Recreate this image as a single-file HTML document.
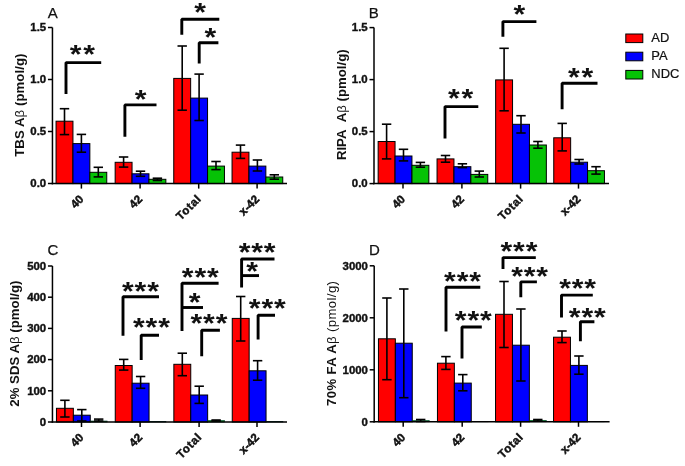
<!DOCTYPE html>
<html><head><meta charset="utf-8"><style>
html,body{margin:0;padding:0;background:#fff;width:685px;height:466px;overflow:hidden}
svg{display:block;will-change:transform}
text{font-family:"Liberation Sans", sans-serif;fill:#111}
</style></head><body>
<svg width="685" height="466" viewBox="0 0 685 466">
<rect x="56.05" y="121.20" width="16.90" height="62.40" fill="#ff0000" stroke="#000" stroke-width="1"/>
<line x1="64.50" y1="108.70" x2="64.50" y2="134.60" stroke="#000" stroke-width="1.6"/>
<line x1="59.80" y1="108.70" x2="69.20" y2="108.70" stroke="#000" stroke-width="1.6"/>
<line x1="59.80" y1="134.60" x2="69.20" y2="134.60" stroke="#000" stroke-width="1.6"/>
<rect x="72.95" y="143.60" width="16.90" height="40.00" fill="#0000ff" stroke="#000" stroke-width="1"/>
<line x1="81.40" y1="134.40" x2="81.40" y2="152.20" stroke="#000" stroke-width="1.6"/>
<line x1="76.70" y1="134.40" x2="86.10" y2="134.40" stroke="#000" stroke-width="1.6"/>
<line x1="76.70" y1="152.20" x2="86.10" y2="152.20" stroke="#000" stroke-width="1.6"/>
<rect x="89.85" y="172.30" width="16.90" height="11.30" fill="#06c206" stroke="#000" stroke-width="1"/>
<line x1="98.30" y1="167.30" x2="98.30" y2="176.90" stroke="#000" stroke-width="1.6"/>
<line x1="93.60" y1="167.30" x2="103.00" y2="167.30" stroke="#000" stroke-width="1.6"/>
<line x1="93.60" y1="176.90" x2="103.00" y2="176.90" stroke="#000" stroke-width="1.6"/>
<rect x="115.15" y="162.30" width="16.90" height="21.30" fill="#ff0000" stroke="#000" stroke-width="1"/>
<line x1="123.60" y1="157.00" x2="123.60" y2="167.10" stroke="#000" stroke-width="1.6"/>
<line x1="118.90" y1="157.00" x2="128.30" y2="157.00" stroke="#000" stroke-width="1.6"/>
<line x1="118.90" y1="167.10" x2="128.30" y2="167.10" stroke="#000" stroke-width="1.6"/>
<rect x="132.05" y="173.80" width="16.90" height="9.80" fill="#0000ff" stroke="#000" stroke-width="1"/>
<line x1="140.50" y1="171.20" x2="140.50" y2="176.30" stroke="#000" stroke-width="1.6"/>
<line x1="135.80" y1="171.20" x2="145.20" y2="171.20" stroke="#000" stroke-width="1.6"/>
<line x1="135.80" y1="176.30" x2="145.20" y2="176.30" stroke="#000" stroke-width="1.6"/>
<rect x="148.95" y="179.30" width="16.90" height="4.30" fill="#06c206" stroke="#000" stroke-width="1"/>
<line x1="157.40" y1="178.20" x2="157.40" y2="180.50" stroke="#000" stroke-width="1.6"/>
<line x1="152.70" y1="178.20" x2="162.10" y2="178.20" stroke="#000" stroke-width="1.6"/>
<line x1="152.70" y1="180.50" x2="162.10" y2="180.50" stroke="#000" stroke-width="1.6"/>
<rect x="173.75" y="78.40" width="16.90" height="105.20" fill="#ff0000" stroke="#000" stroke-width="1"/>
<line x1="182.20" y1="46.00" x2="182.20" y2="110.20" stroke="#000" stroke-width="1.6"/>
<line x1="177.50" y1="46.00" x2="186.90" y2="46.00" stroke="#000" stroke-width="1.6"/>
<line x1="177.50" y1="110.20" x2="186.90" y2="110.20" stroke="#000" stroke-width="1.6"/>
<rect x="190.65" y="98.10" width="16.90" height="85.50" fill="#0000ff" stroke="#000" stroke-width="1"/>
<line x1="199.10" y1="74.10" x2="199.10" y2="120.50" stroke="#000" stroke-width="1.6"/>
<line x1="194.40" y1="74.10" x2="203.80" y2="74.10" stroke="#000" stroke-width="1.6"/>
<line x1="194.40" y1="120.50" x2="203.80" y2="120.50" stroke="#000" stroke-width="1.6"/>
<rect x="207.55" y="166.10" width="16.90" height="17.50" fill="#06c206" stroke="#000" stroke-width="1"/>
<line x1="216.00" y1="161.50" x2="216.00" y2="169.60" stroke="#000" stroke-width="1.6"/>
<line x1="211.30" y1="161.50" x2="220.70" y2="161.50" stroke="#000" stroke-width="1.6"/>
<line x1="211.30" y1="169.60" x2="220.70" y2="169.60" stroke="#000" stroke-width="1.6"/>
<rect x="232.05" y="152.20" width="16.90" height="31.40" fill="#ff0000" stroke="#000" stroke-width="1"/>
<line x1="240.50" y1="145.10" x2="240.50" y2="158.40" stroke="#000" stroke-width="1.6"/>
<line x1="235.80" y1="145.10" x2="245.20" y2="145.10" stroke="#000" stroke-width="1.6"/>
<line x1="235.80" y1="158.40" x2="245.20" y2="158.40" stroke="#000" stroke-width="1.6"/>
<rect x="248.95" y="166.10" width="16.90" height="17.50" fill="#0000ff" stroke="#000" stroke-width="1"/>
<line x1="257.40" y1="160.00" x2="257.40" y2="171.00" stroke="#000" stroke-width="1.6"/>
<line x1="252.70" y1="160.00" x2="262.10" y2="160.00" stroke="#000" stroke-width="1.6"/>
<line x1="252.70" y1="171.00" x2="262.10" y2="171.00" stroke="#000" stroke-width="1.6"/>
<rect x="265.85" y="177.00" width="16.90" height="6.60" fill="#06c206" stroke="#000" stroke-width="1"/>
<line x1="274.30" y1="174.80" x2="274.30" y2="179.20" stroke="#000" stroke-width="1.6"/>
<line x1="269.60" y1="174.80" x2="279.00" y2="174.80" stroke="#000" stroke-width="1.6"/>
<line x1="269.60" y1="179.20" x2="279.00" y2="179.20" stroke="#000" stroke-width="1.6"/>
<line x1="52.45" y1="27.50" x2="52.45" y2="184.35" stroke="#000" stroke-width="1.5"/>
<line x1="51.70" y1="183.60" x2="287.00" y2="183.60" stroke="#000" stroke-width="1.5"/>
<line x1="47.95" y1="183.50" x2="52.45" y2="183.50" stroke="#000" stroke-width="1.5"/>
<text x="46.15" y="187.20" font-size="11.4" font-weight="bold" text-anchor="end" stroke="#111" stroke-width="0.4">0.0</text>
<line x1="47.95" y1="131.50" x2="52.45" y2="131.50" stroke="#000" stroke-width="1.5"/>
<text x="46.15" y="135.20" font-size="11.4" font-weight="bold" text-anchor="end" stroke="#111" stroke-width="0.4">0.5</text>
<line x1="47.95" y1="79.50" x2="52.45" y2="79.50" stroke="#000" stroke-width="1.5"/>
<text x="46.15" y="83.20" font-size="11.4" font-weight="bold" text-anchor="end" stroke="#111" stroke-width="0.4">1.0</text>
<line x1="47.95" y1="27.50" x2="52.45" y2="27.50" stroke="#000" stroke-width="1.5"/>
<text x="46.15" y="31.20" font-size="11.4" font-weight="bold" text-anchor="end" stroke="#111" stroke-width="0.4">1.5</text>
<line x1="81.40" y1="183.60" x2="81.40" y2="188.60" stroke="#000" stroke-width="1.5"/>
<line x1="140.10" y1="183.60" x2="140.10" y2="188.60" stroke="#000" stroke-width="1.5"/>
<line x1="198.70" y1="183.60" x2="198.70" y2="188.60" stroke="#000" stroke-width="1.5"/>
<line x1="257.10" y1="183.60" x2="257.10" y2="188.60" stroke="#000" stroke-width="1.5"/>
<text x="84.30" y="199.90" font-size="11.6" font-weight="bold" text-anchor="end" stroke="#111" stroke-width="0.45" transform="rotate(-45 84.30 199.90)">40</text>
<text x="143.00" y="199.90" font-size="11.6" font-weight="bold" text-anchor="end" stroke="#111" stroke-width="0.45" transform="rotate(-45 143.00 199.90)">42</text>
<text x="201.60" y="199.90" font-size="11.6" font-weight="bold" text-anchor="end" textLength="29.5" lengthAdjust="spacing" stroke="#111" stroke-width="0.45" transform="rotate(-45 201.60 199.90)">Total</text>
<text x="260.00" y="199.90" font-size="11.6" font-weight="bold" text-anchor="end" stroke="#111" stroke-width="0.45" transform="rotate(-45 260.00 199.90)">x-42</text>
<text x="47.80" y="17.80" font-size="15" font-weight="normal" text-anchor="start" stroke="#111" stroke-width="0.25">A</text>
<text x="23.60" y="105.15" font-size="13.2" font-weight="bold" text-anchor="middle" textLength="103.3" lengthAdjust="spacing" transform="rotate(-90 23.60 105.15)">TBS A<tspan font-weight="normal">β</tspan> (pmol/g)</text>
<path d="M66.00 94.00 V62.60 H101.20" fill="none" stroke="#000" stroke-width="2.9" stroke-linejoin="bevel"/>
<text x="0" y="9.43" font-size="29" font-weight="bold" text-anchor="middle" transform="translate(75.65 54.90) scale(1.04 0.9)">*</text>
<text x="0" y="9.43" font-size="29" font-weight="bold" text-anchor="middle" transform="translate(89.15 54.90) scale(1.04 0.9)">*</text>
<path d="M124.90 136.70 V104.90 H156.50" fill="none" stroke="#000" stroke-width="2.9" stroke-linejoin="bevel"/>
<text x="0" y="9.43" font-size="29" font-weight="bold" text-anchor="middle" transform="translate(140.60 99.50) scale(1.04 0.9)">*</text>
<path d="M181.80 34.80 V19.20 H219.30" fill="none" stroke="#000" stroke-width="2.9" stroke-linejoin="bevel"/>
<text x="0" y="9.43" font-size="29" font-weight="bold" text-anchor="middle" transform="translate(200.00 12.90) scale(1.04 0.9)">*</text>
<path d="M199.20 63.40 V42.70 H218.40" fill="none" stroke="#000" stroke-width="2.9" stroke-linejoin="bevel"/>
<text x="0" y="9.43" font-size="29" font-weight="bold" text-anchor="middle" transform="translate(210.40 37.80) scale(1.04 0.9)">*</text>
<rect x="378.15" y="141.50" width="16.90" height="42.10" fill="#ff0000" stroke="#000" stroke-width="1"/>
<line x1="386.60" y1="124.20" x2="386.60" y2="158.90" stroke="#000" stroke-width="1.6"/>
<line x1="381.90" y1="124.20" x2="391.30" y2="124.20" stroke="#000" stroke-width="1.6"/>
<line x1="381.90" y1="158.90" x2="391.30" y2="158.90" stroke="#000" stroke-width="1.6"/>
<rect x="395.05" y="156.00" width="16.90" height="27.60" fill="#0000ff" stroke="#000" stroke-width="1"/>
<line x1="403.50" y1="149.30" x2="403.50" y2="160.90" stroke="#000" stroke-width="1.6"/>
<line x1="398.80" y1="149.30" x2="408.20" y2="149.30" stroke="#000" stroke-width="1.6"/>
<line x1="398.80" y1="160.90" x2="408.20" y2="160.90" stroke="#000" stroke-width="1.6"/>
<rect x="411.95" y="165.30" width="16.90" height="18.30" fill="#06c206" stroke="#000" stroke-width="1"/>
<line x1="420.40" y1="162.40" x2="420.40" y2="167.20" stroke="#000" stroke-width="1.6"/>
<line x1="415.70" y1="162.40" x2="425.10" y2="162.40" stroke="#000" stroke-width="1.6"/>
<line x1="415.70" y1="167.20" x2="425.10" y2="167.20" stroke="#000" stroke-width="1.6"/>
<rect x="437.05" y="158.90" width="16.90" height="24.70" fill="#ff0000" stroke="#000" stroke-width="1"/>
<line x1="445.50" y1="155.50" x2="445.50" y2="162.20" stroke="#000" stroke-width="1.6"/>
<line x1="440.80" y1="155.50" x2="450.20" y2="155.50" stroke="#000" stroke-width="1.6"/>
<line x1="440.80" y1="162.20" x2="450.20" y2="162.20" stroke="#000" stroke-width="1.6"/>
<rect x="453.95" y="166.70" width="16.90" height="16.90" fill="#0000ff" stroke="#000" stroke-width="1"/>
<line x1="462.40" y1="163.80" x2="462.40" y2="167.60" stroke="#000" stroke-width="1.6"/>
<line x1="457.70" y1="163.80" x2="467.10" y2="163.80" stroke="#000" stroke-width="1.6"/>
<line x1="457.70" y1="167.60" x2="467.10" y2="167.60" stroke="#000" stroke-width="1.6"/>
<rect x="470.85" y="174.40" width="16.90" height="9.20" fill="#06c206" stroke="#000" stroke-width="1"/>
<line x1="479.30" y1="171.10" x2="479.30" y2="177.00" stroke="#000" stroke-width="1.6"/>
<line x1="474.60" y1="171.10" x2="484.00" y2="171.10" stroke="#000" stroke-width="1.6"/>
<line x1="474.60" y1="177.00" x2="484.00" y2="177.00" stroke="#000" stroke-width="1.6"/>
<rect x="495.65" y="79.90" width="16.90" height="103.70" fill="#ff0000" stroke="#000" stroke-width="1"/>
<line x1="504.10" y1="48.30" x2="504.10" y2="110.80" stroke="#000" stroke-width="1.6"/>
<line x1="499.40" y1="48.30" x2="508.80" y2="48.30" stroke="#000" stroke-width="1.6"/>
<line x1="499.40" y1="110.80" x2="508.80" y2="110.80" stroke="#000" stroke-width="1.6"/>
<rect x="512.55" y="124.30" width="16.90" height="59.30" fill="#0000ff" stroke="#000" stroke-width="1"/>
<line x1="521.00" y1="115.70" x2="521.00" y2="133.00" stroke="#000" stroke-width="1.6"/>
<line x1="516.30" y1="115.70" x2="525.70" y2="115.70" stroke="#000" stroke-width="1.6"/>
<line x1="516.30" y1="133.00" x2="525.70" y2="133.00" stroke="#000" stroke-width="1.6"/>
<rect x="529.45" y="145.00" width="16.90" height="38.60" fill="#06c206" stroke="#000" stroke-width="1"/>
<line x1="537.90" y1="141.50" x2="537.90" y2="148.20" stroke="#000" stroke-width="1.6"/>
<line x1="533.20" y1="141.50" x2="542.60" y2="141.50" stroke="#000" stroke-width="1.6"/>
<line x1="533.20" y1="148.20" x2="542.60" y2="148.20" stroke="#000" stroke-width="1.6"/>
<rect x="553.75" y="137.80" width="16.90" height="45.80" fill="#ff0000" stroke="#000" stroke-width="1"/>
<line x1="562.20" y1="123.40" x2="562.20" y2="150.90" stroke="#000" stroke-width="1.6"/>
<line x1="557.50" y1="123.40" x2="566.90" y2="123.40" stroke="#000" stroke-width="1.6"/>
<line x1="557.50" y1="150.90" x2="566.90" y2="150.90" stroke="#000" stroke-width="1.6"/>
<rect x="570.65" y="162.20" width="16.90" height="21.40" fill="#0000ff" stroke="#000" stroke-width="1"/>
<line x1="579.10" y1="159.50" x2="579.10" y2="164.00" stroke="#000" stroke-width="1.6"/>
<line x1="574.40" y1="159.50" x2="583.80" y2="159.50" stroke="#000" stroke-width="1.6"/>
<line x1="574.40" y1="164.00" x2="583.80" y2="164.00" stroke="#000" stroke-width="1.6"/>
<rect x="587.55" y="170.70" width="16.90" height="12.90" fill="#06c206" stroke="#000" stroke-width="1"/>
<line x1="596.00" y1="166.70" x2="596.00" y2="174.10" stroke="#000" stroke-width="1.6"/>
<line x1="591.30" y1="166.70" x2="600.70" y2="166.70" stroke="#000" stroke-width="1.6"/>
<line x1="591.30" y1="174.10" x2="600.70" y2="174.10" stroke="#000" stroke-width="1.6"/>
<line x1="374.00" y1="27.60" x2="374.00" y2="184.35" stroke="#000" stroke-width="1.5"/>
<line x1="373.25" y1="183.60" x2="609.00" y2="183.60" stroke="#000" stroke-width="1.5"/>
<line x1="369.50" y1="183.60" x2="374.00" y2="183.60" stroke="#000" stroke-width="1.5"/>
<text x="367.70" y="187.30" font-size="11.4" font-weight="bold" text-anchor="end" stroke="#111" stroke-width="0.4">0.0</text>
<line x1="369.50" y1="131.60" x2="374.00" y2="131.60" stroke="#000" stroke-width="1.5"/>
<text x="367.70" y="135.30" font-size="11.4" font-weight="bold" text-anchor="end" stroke="#111" stroke-width="0.4">0.5</text>
<line x1="369.50" y1="79.60" x2="374.00" y2="79.60" stroke="#000" stroke-width="1.5"/>
<text x="367.70" y="83.30" font-size="11.4" font-weight="bold" text-anchor="end" stroke="#111" stroke-width="0.4">1.0</text>
<line x1="369.50" y1="27.60" x2="374.00" y2="27.60" stroke="#000" stroke-width="1.5"/>
<text x="367.70" y="31.30" font-size="11.4" font-weight="bold" text-anchor="end" stroke="#111" stroke-width="0.4">1.5</text>
<line x1="403.00" y1="183.60" x2="403.00" y2="188.60" stroke="#000" stroke-width="1.5"/>
<line x1="461.90" y1="183.60" x2="461.90" y2="188.60" stroke="#000" stroke-width="1.5"/>
<line x1="520.60" y1="183.60" x2="520.60" y2="188.60" stroke="#000" stroke-width="1.5"/>
<line x1="578.50" y1="183.60" x2="578.50" y2="188.60" stroke="#000" stroke-width="1.5"/>
<text x="405.90" y="199.90" font-size="11.6" font-weight="bold" text-anchor="end" stroke="#111" stroke-width="0.45" transform="rotate(-45 405.90 199.90)">40</text>
<text x="464.80" y="199.90" font-size="11.6" font-weight="bold" text-anchor="end" stroke="#111" stroke-width="0.45" transform="rotate(-45 464.80 199.90)">42</text>
<text x="523.50" y="199.90" font-size="11.6" font-weight="bold" text-anchor="end" textLength="29.5" lengthAdjust="spacing" stroke="#111" stroke-width="0.45" transform="rotate(-45 523.50 199.90)">Total</text>
<text x="581.40" y="199.90" font-size="11.6" font-weight="bold" text-anchor="end" stroke="#111" stroke-width="0.45" transform="rotate(-45 581.40 199.90)">x-42</text>
<text x="368.70" y="17.80" font-size="15" font-weight="normal" text-anchor="start" stroke="#111" stroke-width="0.25">B</text>
<text x="345.70" y="104.75" font-size="13.2" font-weight="bold" text-anchor="middle" textLength="110.7" lengthAdjust="spacing" transform="rotate(-90 345.70 104.75)">RIPA&#160;&#160;A<tspan font-weight="normal">β</tspan> (pmol/g)</text>
<path d="M445.00 138.60 V106.60 H478.30" fill="none" stroke="#000" stroke-width="2.9" stroke-linejoin="bevel"/>
<text x="0" y="9.43" font-size="29" font-weight="bold" text-anchor="middle" transform="translate(453.95 98.50) scale(1.04 0.9)">*</text>
<text x="0" y="9.43" font-size="29" font-weight="bold" text-anchor="middle" transform="translate(467.45 98.50) scale(1.04 0.9)">*</text>
<path d="M502.90 36.70 V21.60 H536.40" fill="none" stroke="#000" stroke-width="2.9" stroke-linejoin="bevel"/>
<text x="0" y="9.43" font-size="29" font-weight="bold" text-anchor="middle" transform="translate(519.40 14.10) scale(1.04 0.9)">*</text>
<path d="M562.10 109.30 V83.20 H597.50" fill="none" stroke="#000" stroke-width="2.9" stroke-linejoin="bevel"/>
<text x="0" y="9.43" font-size="29" font-weight="bold" text-anchor="middle" transform="translate(573.75 77.40) scale(1.04 0.9)">*</text>
<text x="0" y="9.43" font-size="29" font-weight="bold" text-anchor="middle" transform="translate(587.25 77.40) scale(1.04 0.9)">*</text>
<rect x="56.45" y="408.30" width="16.90" height="13.70" fill="#ff0000" stroke="#000" stroke-width="1"/>
<line x1="64.90" y1="400.30" x2="64.90" y2="417.00" stroke="#000" stroke-width="1.6"/>
<line x1="60.20" y1="400.30" x2="69.60" y2="400.30" stroke="#000" stroke-width="1.6"/>
<line x1="60.20" y1="417.00" x2="69.60" y2="417.00" stroke="#000" stroke-width="1.6"/>
<rect x="73.35" y="415.20" width="16.90" height="6.80" fill="#0000ff" stroke="#000" stroke-width="1"/>
<line x1="81.80" y1="409.60" x2="81.80" y2="421.00" stroke="#000" stroke-width="1.6"/>
<line x1="77.10" y1="409.60" x2="86.50" y2="409.60" stroke="#000" stroke-width="1.6"/>
<line x1="77.10" y1="421.00" x2="86.50" y2="421.00" stroke="#000" stroke-width="1.6"/>
<rect x="90.25" y="421.00" width="16.90" height="1.00" fill="#06c206" stroke="#033" stroke-width="0.6"/>
<line x1="98.70" y1="419.10" x2="98.70" y2="421.00" stroke="#000" stroke-width="1.6"/>
<line x1="94.00" y1="419.10" x2="103.40" y2="419.10" stroke="#000" stroke-width="1.6"/>
<line x1="94.00" y1="421.00" x2="103.40" y2="421.00" stroke="#000" stroke-width="1.6"/>
<rect x="115.25" y="365.50" width="16.90" height="56.50" fill="#ff0000" stroke="#000" stroke-width="1"/>
<line x1="123.70" y1="359.40" x2="123.70" y2="370.10" stroke="#000" stroke-width="1.6"/>
<line x1="119.00" y1="359.40" x2="128.40" y2="359.40" stroke="#000" stroke-width="1.6"/>
<line x1="119.00" y1="370.10" x2="128.40" y2="370.10" stroke="#000" stroke-width="1.6"/>
<rect x="132.15" y="383.20" width="16.90" height="38.80" fill="#0000ff" stroke="#000" stroke-width="1"/>
<line x1="140.60" y1="376.50" x2="140.60" y2="388.30" stroke="#000" stroke-width="1.6"/>
<line x1="135.90" y1="376.50" x2="145.30" y2="376.50" stroke="#000" stroke-width="1.6"/>
<line x1="135.90" y1="388.30" x2="145.30" y2="388.30" stroke="#000" stroke-width="1.6"/>
<rect x="149.05" y="421.50" width="16.90" height="0.50" fill="#06c206" stroke="#033" stroke-width="0.6"/>
<rect x="173.85" y="364.30" width="16.90" height="57.70" fill="#ff0000" stroke="#000" stroke-width="1"/>
<line x1="182.30" y1="353.20" x2="182.30" y2="375.70" stroke="#000" stroke-width="1.6"/>
<line x1="177.60" y1="353.20" x2="187.00" y2="353.20" stroke="#000" stroke-width="1.6"/>
<line x1="177.60" y1="375.70" x2="187.00" y2="375.70" stroke="#000" stroke-width="1.6"/>
<rect x="190.75" y="395.00" width="16.90" height="27.00" fill="#0000ff" stroke="#000" stroke-width="1"/>
<line x1="199.20" y1="386.20" x2="199.20" y2="403.40" stroke="#000" stroke-width="1.6"/>
<line x1="194.50" y1="386.20" x2="203.90" y2="386.20" stroke="#000" stroke-width="1.6"/>
<line x1="194.50" y1="403.40" x2="203.90" y2="403.40" stroke="#000" stroke-width="1.6"/>
<rect x="207.65" y="420.50" width="16.90" height="1.50" fill="#06c206" stroke="#033" stroke-width="0.6"/>
<line x1="216.10" y1="420.00" x2="216.10" y2="421.00" stroke="#000" stroke-width="1.6"/>
<line x1="211.40" y1="420.00" x2="220.80" y2="420.00" stroke="#000" stroke-width="1.6"/>
<line x1="211.40" y1="421.00" x2="220.80" y2="421.00" stroke="#000" stroke-width="1.6"/>
<rect x="232.25" y="318.40" width="16.90" height="103.60" fill="#ff0000" stroke="#000" stroke-width="1"/>
<line x1="240.70" y1="296.50" x2="240.70" y2="341.00" stroke="#000" stroke-width="1.6"/>
<line x1="236.00" y1="296.50" x2="245.40" y2="296.50" stroke="#000" stroke-width="1.6"/>
<line x1="236.00" y1="341.00" x2="245.40" y2="341.00" stroke="#000" stroke-width="1.6"/>
<rect x="249.15" y="370.80" width="16.90" height="51.20" fill="#0000ff" stroke="#000" stroke-width="1"/>
<line x1="257.60" y1="360.70" x2="257.60" y2="380.20" stroke="#000" stroke-width="1.6"/>
<line x1="252.90" y1="360.70" x2="262.30" y2="360.70" stroke="#000" stroke-width="1.6"/>
<line x1="252.90" y1="380.20" x2="262.30" y2="380.20" stroke="#000" stroke-width="1.6"/>
<rect x="266.05" y="421.50" width="16.90" height="0.50" fill="#06c206" stroke="#033" stroke-width="0.6"/>
<line x1="52.45" y1="266.00" x2="52.45" y2="422.75" stroke="#000" stroke-width="1.5"/>
<line x1="51.70" y1="422.00" x2="287.00" y2="422.00" stroke="#000" stroke-width="1.5"/>
<line x1="47.95" y1="422.00" x2="52.45" y2="422.00" stroke="#000" stroke-width="1.5"/>
<text x="46.15" y="425.70" font-size="11.4" font-weight="bold" text-anchor="end" stroke="#111" stroke-width="0.4">0</text>
<line x1="47.95" y1="390.80" x2="52.45" y2="390.80" stroke="#000" stroke-width="1.5"/>
<text x="46.15" y="394.50" font-size="11.4" font-weight="bold" text-anchor="end" stroke="#111" stroke-width="0.4">100</text>
<line x1="47.95" y1="359.60" x2="52.45" y2="359.60" stroke="#000" stroke-width="1.5"/>
<text x="46.15" y="363.30" font-size="11.4" font-weight="bold" text-anchor="end" stroke="#111" stroke-width="0.4">200</text>
<line x1="47.95" y1="328.40" x2="52.45" y2="328.40" stroke="#000" stroke-width="1.5"/>
<text x="46.15" y="332.10" font-size="11.4" font-weight="bold" text-anchor="end" stroke="#111" stroke-width="0.4">300</text>
<line x1="47.95" y1="297.20" x2="52.45" y2="297.20" stroke="#000" stroke-width="1.5"/>
<text x="46.15" y="300.90" font-size="11.4" font-weight="bold" text-anchor="end" stroke="#111" stroke-width="0.4">400</text>
<line x1="47.95" y1="266.00" x2="52.45" y2="266.00" stroke="#000" stroke-width="1.5"/>
<text x="46.15" y="269.70" font-size="11.4" font-weight="bold" text-anchor="end" stroke="#111" stroke-width="0.4">500</text>
<line x1="81.50" y1="422.00" x2="81.50" y2="427.00" stroke="#000" stroke-width="1.5"/>
<line x1="140.10" y1="422.00" x2="140.10" y2="427.00" stroke="#000" stroke-width="1.5"/>
<line x1="199.10" y1="422.00" x2="199.10" y2="427.00" stroke="#000" stroke-width="1.5"/>
<line x1="257.00" y1="422.00" x2="257.00" y2="427.00" stroke="#000" stroke-width="1.5"/>
<text x="84.40" y="438.30" font-size="11.6" font-weight="bold" text-anchor="end" stroke="#111" stroke-width="0.45" transform="rotate(-45 84.40 438.30)">40</text>
<text x="143.00" y="438.30" font-size="11.6" font-weight="bold" text-anchor="end" stroke="#111" stroke-width="0.45" transform="rotate(-45 143.00 438.30)">42</text>
<text x="202.00" y="438.30" font-size="11.6" font-weight="bold" text-anchor="end" textLength="29.5" lengthAdjust="spacing" stroke="#111" stroke-width="0.45" transform="rotate(-45 202.00 438.30)">Total</text>
<text x="259.90" y="438.30" font-size="11.6" font-weight="bold" text-anchor="end" stroke="#111" stroke-width="0.45" transform="rotate(-45 259.90 438.30)">x-42</text>
<text x="47.60" y="254.70" font-size="15" font-weight="normal" text-anchor="start" stroke="#111" stroke-width="0.25">C</text>
<text x="19.50" y="343.60" font-size="13.2" font-weight="bold" text-anchor="middle" textLength="126.2" lengthAdjust="spacing" transform="rotate(-90 19.50 343.60)">2% SDS A<tspan font-weight="normal">β</tspan> (pmol/g)</text>
<path d="M123.00 335.80 V296.80 H159.00" fill="none" stroke="#000" stroke-width="2.9" stroke-linejoin="bevel"/>
<text x="0" y="9.43" font-size="29" font-weight="bold" text-anchor="middle" transform="translate(127.80 292.00) scale(1.04 0.9)">*</text>
<text x="0" y="9.43" font-size="29" font-weight="bold" text-anchor="middle" transform="translate(140.40 292.00) scale(1.04 0.9)">*</text>
<text x="0" y="9.43" font-size="29" font-weight="bold" text-anchor="middle" transform="translate(153.00 292.00) scale(1.04 0.9)">*</text>
<path d="M141.20 360.00 V335.20 H159.00" fill="none" stroke="#000" stroke-width="2.9" stroke-linejoin="bevel"/>
<text x="0" y="9.43" font-size="29" font-weight="bold" text-anchor="middle" transform="translate(138.80 327.70) scale(1.04 0.9)">*</text>
<text x="0" y="9.43" font-size="29" font-weight="bold" text-anchor="middle" transform="translate(151.40 327.70) scale(1.04 0.9)">*</text>
<text x="0" y="9.43" font-size="29" font-weight="bold" text-anchor="middle" transform="translate(164.00 327.70) scale(1.04 0.9)">*</text>
<path d="M182.00 331.00 V283.20 H218.60" fill="none" stroke="#000" stroke-width="2.9" stroke-linejoin="bevel"/>
<text x="0" y="9.43" font-size="29" font-weight="bold" text-anchor="middle" transform="translate(187.70 278.00) scale(1.04 0.9)">*</text>
<text x="0" y="9.43" font-size="29" font-weight="bold" text-anchor="middle" transform="translate(200.30 278.00) scale(1.04 0.9)">*</text>
<text x="0" y="9.43" font-size="29" font-weight="bold" text-anchor="middle" transform="translate(212.90 278.00) scale(1.04 0.9)">*</text>
<line x1="182.00" y1="307.50" x2="203.00" y2="307.50" stroke="#000" stroke-width="2.9"/>
<text x="0" y="9.43" font-size="29" font-weight="bold" text-anchor="middle" transform="translate(194.70 302.80) scale(1.04 0.9)">*</text>
<path d="M201.70 356.20 V330.20 H219.90" fill="none" stroke="#000" stroke-width="2.9" stroke-linejoin="bevel"/>
<text x="0" y="9.43" font-size="29" font-weight="bold" text-anchor="middle" transform="translate(196.35 323.80) scale(1.04 0.9)">*</text>
<text x="0" y="9.43" font-size="29" font-weight="bold" text-anchor="middle" transform="translate(208.95 323.80) scale(1.04 0.9)">*</text>
<text x="0" y="9.43" font-size="29" font-weight="bold" text-anchor="middle" transform="translate(221.55 323.80) scale(1.04 0.9)">*</text>
<path d="M241.60 287.50 V259.00 H274.50" fill="none" stroke="#000" stroke-width="2.9" stroke-linejoin="bevel"/>
<text x="0" y="9.43" font-size="29" font-weight="bold" text-anchor="middle" transform="translate(244.50 252.90) scale(1.04 0.9)">*</text>
<text x="0" y="9.43" font-size="29" font-weight="bold" text-anchor="middle" transform="translate(257.10 252.90) scale(1.04 0.9)">*</text>
<text x="0" y="9.43" font-size="29" font-weight="bold" text-anchor="middle" transform="translate(269.70 252.90) scale(1.04 0.9)">*</text>
<line x1="241.60" y1="275.60" x2="259.00" y2="275.60" stroke="#000" stroke-width="2.9"/>
<text x="0" y="9.43" font-size="29" font-weight="bold" text-anchor="middle" transform="translate(252.20 271.80) scale(1.04 0.9)">*</text>
<path d="M258.10 339.40 V315.30 H275.00" fill="none" stroke="#000" stroke-width="2.9" stroke-linejoin="bevel"/>
<text x="0" y="9.43" font-size="29" font-weight="bold" text-anchor="middle" transform="translate(254.70 308.70) scale(1.04 0.9)">*</text>
<text x="0" y="9.43" font-size="29" font-weight="bold" text-anchor="middle" transform="translate(267.30 308.70) scale(1.04 0.9)">*</text>
<text x="0" y="9.43" font-size="29" font-weight="bold" text-anchor="middle" transform="translate(279.90 308.70) scale(1.04 0.9)">*</text>
<rect x="378.45" y="338.80" width="16.90" height="83.00" fill="#ff0000" stroke="#000" stroke-width="1"/>
<line x1="386.90" y1="298.00" x2="386.90" y2="379.70" stroke="#000" stroke-width="1.6"/>
<line x1="382.20" y1="298.00" x2="391.60" y2="298.00" stroke="#000" stroke-width="1.6"/>
<line x1="382.20" y1="379.70" x2="391.60" y2="379.70" stroke="#000" stroke-width="1.6"/>
<rect x="395.35" y="343.20" width="16.90" height="78.60" fill="#0000ff" stroke="#000" stroke-width="1"/>
<line x1="403.80" y1="289.00" x2="403.80" y2="397.70" stroke="#000" stroke-width="1.6"/>
<line x1="399.10" y1="289.00" x2="408.50" y2="289.00" stroke="#000" stroke-width="1.6"/>
<line x1="399.10" y1="397.70" x2="408.50" y2="397.70" stroke="#000" stroke-width="1.6"/>
<rect x="412.25" y="420.50" width="16.90" height="1.30" fill="#06c206" stroke="#033" stroke-width="0.6"/>
<line x1="420.70" y1="419.50" x2="420.70" y2="421.50" stroke="#000" stroke-width="1.6"/>
<line x1="416.00" y1="419.50" x2="425.40" y2="419.50" stroke="#000" stroke-width="1.6"/>
<line x1="416.00" y1="421.50" x2="425.40" y2="421.50" stroke="#000" stroke-width="1.6"/>
<rect x="437.45" y="363.20" width="16.90" height="58.60" fill="#ff0000" stroke="#000" stroke-width="1"/>
<line x1="445.90" y1="356.60" x2="445.90" y2="369.40" stroke="#000" stroke-width="1.6"/>
<line x1="441.20" y1="356.60" x2="450.60" y2="356.60" stroke="#000" stroke-width="1.6"/>
<line x1="441.20" y1="369.40" x2="450.60" y2="369.40" stroke="#000" stroke-width="1.6"/>
<rect x="454.35" y="383.10" width="16.90" height="38.70" fill="#0000ff" stroke="#000" stroke-width="1"/>
<line x1="462.80" y1="374.60" x2="462.80" y2="390.80" stroke="#000" stroke-width="1.6"/>
<line x1="458.10" y1="374.60" x2="467.50" y2="374.60" stroke="#000" stroke-width="1.6"/>
<line x1="458.10" y1="390.80" x2="467.50" y2="390.80" stroke="#000" stroke-width="1.6"/>
<rect x="471.25" y="421.30" width="16.90" height="0.50" fill="#06c206" stroke="#033" stroke-width="0.6"/>
<rect x="495.55" y="314.30" width="16.90" height="107.50" fill="#ff0000" stroke="#000" stroke-width="1"/>
<line x1="504.00" y1="281.50" x2="504.00" y2="347.50" stroke="#000" stroke-width="1.6"/>
<line x1="499.30" y1="281.50" x2="508.70" y2="281.50" stroke="#000" stroke-width="1.6"/>
<line x1="499.30" y1="347.50" x2="508.70" y2="347.50" stroke="#000" stroke-width="1.6"/>
<rect x="512.45" y="345.20" width="16.90" height="76.60" fill="#0000ff" stroke="#000" stroke-width="1"/>
<line x1="520.90" y1="309.00" x2="520.90" y2="381.00" stroke="#000" stroke-width="1.6"/>
<line x1="516.20" y1="309.00" x2="525.60" y2="309.00" stroke="#000" stroke-width="1.6"/>
<line x1="516.20" y1="381.00" x2="525.60" y2="381.00" stroke="#000" stroke-width="1.6"/>
<rect x="529.35" y="420.30" width="16.90" height="1.50" fill="#06c206" stroke="#033" stroke-width="0.6"/>
<line x1="537.80" y1="419.50" x2="537.80" y2="421.00" stroke="#000" stroke-width="1.6"/>
<line x1="533.10" y1="419.50" x2="542.50" y2="419.50" stroke="#000" stroke-width="1.6"/>
<line x1="533.10" y1="421.00" x2="542.50" y2="421.00" stroke="#000" stroke-width="1.6"/>
<rect x="553.55" y="337.20" width="16.90" height="84.60" fill="#ff0000" stroke="#000" stroke-width="1"/>
<line x1="562.00" y1="331.00" x2="562.00" y2="342.60" stroke="#000" stroke-width="1.6"/>
<line x1="557.30" y1="331.00" x2="566.70" y2="331.00" stroke="#000" stroke-width="1.6"/>
<line x1="557.30" y1="342.60" x2="566.70" y2="342.60" stroke="#000" stroke-width="1.6"/>
<rect x="570.45" y="365.40" width="16.90" height="56.40" fill="#0000ff" stroke="#000" stroke-width="1"/>
<line x1="578.90" y1="356.00" x2="578.90" y2="374.20" stroke="#000" stroke-width="1.6"/>
<line x1="574.20" y1="356.00" x2="583.60" y2="356.00" stroke="#000" stroke-width="1.6"/>
<line x1="574.20" y1="374.20" x2="583.60" y2="374.20" stroke="#000" stroke-width="1.6"/>
<rect x="587.35" y="421.30" width="16.90" height="0.50" fill="#06c206" stroke="#033" stroke-width="0.6"/>
<line x1="374.20" y1="265.80" x2="374.20" y2="422.55" stroke="#000" stroke-width="1.5"/>
<line x1="373.45" y1="421.80" x2="609.60" y2="421.80" stroke="#000" stroke-width="1.5"/>
<line x1="369.70" y1="421.80" x2="374.20" y2="421.80" stroke="#000" stroke-width="1.5"/>
<text x="367.90" y="425.50" font-size="11.4" font-weight="bold" text-anchor="end" stroke="#111" stroke-width="0.4">0</text>
<line x1="369.70" y1="369.80" x2="374.20" y2="369.80" stroke="#000" stroke-width="1.5"/>
<text x="367.90" y="373.50" font-size="11.4" font-weight="bold" text-anchor="end" stroke="#111" stroke-width="0.4">1000</text>
<line x1="369.70" y1="317.80" x2="374.20" y2="317.80" stroke="#000" stroke-width="1.5"/>
<text x="367.90" y="321.50" font-size="11.4" font-weight="bold" text-anchor="end" stroke="#111" stroke-width="0.4">2000</text>
<line x1="369.70" y1="265.80" x2="374.20" y2="265.80" stroke="#000" stroke-width="1.5"/>
<text x="367.90" y="269.50" font-size="11.4" font-weight="bold" text-anchor="end" stroke="#111" stroke-width="0.4">3000</text>
<line x1="403.20" y1="421.80" x2="403.20" y2="426.80" stroke="#000" stroke-width="1.5"/>
<line x1="462.20" y1="421.80" x2="462.20" y2="426.80" stroke="#000" stroke-width="1.5"/>
<line x1="520.60" y1="421.80" x2="520.60" y2="426.80" stroke="#000" stroke-width="1.5"/>
<line x1="578.50" y1="421.80" x2="578.50" y2="426.80" stroke="#000" stroke-width="1.5"/>
<text x="406.10" y="438.10" font-size="11.6" font-weight="bold" text-anchor="end" stroke="#111" stroke-width="0.45" transform="rotate(-45 406.10 438.10)">40</text>
<text x="465.10" y="438.10" font-size="11.6" font-weight="bold" text-anchor="end" stroke="#111" stroke-width="0.45" transform="rotate(-45 465.10 438.10)">42</text>
<text x="523.50" y="438.10" font-size="11.6" font-weight="bold" text-anchor="end" textLength="29.5" lengthAdjust="spacing" stroke="#111" stroke-width="0.45" transform="rotate(-45 523.50 438.10)">Total</text>
<text x="581.40" y="438.10" font-size="11.6" font-weight="bold" text-anchor="end" stroke="#111" stroke-width="0.45" transform="rotate(-45 581.40 438.10)">x-42</text>
<text x="368.90" y="254.70" font-size="15" font-weight="normal" text-anchor="start" stroke="#111" stroke-width="0.25">D</text>
<text x="336.00" y="343.50" font-size="13.2" font-weight="bold" text-anchor="middle" textLength="125" lengthAdjust="spacing" transform="rotate(-90 336.00 343.50)">70% FA A<tspan font-weight="normal">β</tspan><tspan font-weight="normal"> (pmol/g)</tspan></text>
<path d="M446.00 331.60 V287.20 H480.30" fill="none" stroke="#000" stroke-width="2.9" stroke-linejoin="bevel"/>
<text x="0" y="9.43" font-size="29" font-weight="bold" text-anchor="middle" transform="translate(449.90 281.20) scale(1.04 0.9)">*</text>
<text x="0" y="9.43" font-size="29" font-weight="bold" text-anchor="middle" transform="translate(462.50 281.20) scale(1.04 0.9)">*</text>
<text x="0" y="9.43" font-size="29" font-weight="bold" text-anchor="middle" transform="translate(475.10 281.20) scale(1.04 0.9)">*</text>
<path d="M462.00 358.60 V327.00 H481.80" fill="none" stroke="#000" stroke-width="2.9" stroke-linejoin="bevel"/>
<text x="0" y="9.43" font-size="29" font-weight="bold" text-anchor="middle" transform="translate(460.70 320.20) scale(1.04 0.9)">*</text>
<text x="0" y="9.43" font-size="29" font-weight="bold" text-anchor="middle" transform="translate(473.30 320.20) scale(1.04 0.9)">*</text>
<text x="0" y="9.43" font-size="29" font-weight="bold" text-anchor="middle" transform="translate(485.90 320.20) scale(1.04 0.9)">*</text>
<path d="M503.00 269.00 V257.60 H535.80" fill="none" stroke="#000" stroke-width="2.9" stroke-linejoin="bevel"/>
<text x="0" y="9.43" font-size="29" font-weight="bold" text-anchor="middle" transform="translate(506.30 251.10) scale(1.04 0.9)">*</text>
<text x="0" y="9.43" font-size="29" font-weight="bold" text-anchor="middle" transform="translate(518.90 251.10) scale(1.04 0.9)">*</text>
<text x="0" y="9.43" font-size="29" font-weight="bold" text-anchor="middle" transform="translate(531.50 251.10) scale(1.04 0.9)">*</text>
<path d="M520.80 297.20 V281.90 H536.90" fill="none" stroke="#000" stroke-width="2.9" stroke-linejoin="bevel"/>
<text x="0" y="9.43" font-size="29" font-weight="bold" text-anchor="middle" transform="translate(517.00 276.10) scale(1.04 0.9)">*</text>
<text x="0" y="9.43" font-size="29" font-weight="bold" text-anchor="middle" transform="translate(529.60 276.10) scale(1.04 0.9)">*</text>
<text x="0" y="9.43" font-size="29" font-weight="bold" text-anchor="middle" transform="translate(542.20 276.10) scale(1.04 0.9)">*</text>
<path d="M561.50 317.40 V295.10 H592.80" fill="none" stroke="#000" stroke-width="2.9" stroke-linejoin="bevel"/>
<text x="0" y="9.43" font-size="29" font-weight="bold" text-anchor="middle" transform="translate(565.00 288.50) scale(1.04 0.9)">*</text>
<text x="0" y="9.43" font-size="29" font-weight="bold" text-anchor="middle" transform="translate(577.60 288.50) scale(1.04 0.9)">*</text>
<text x="0" y="9.43" font-size="29" font-weight="bold" text-anchor="middle" transform="translate(590.20 288.50) scale(1.04 0.9)">*</text>
<path d="M580.40 341.30 V321.80 H594.40" fill="none" stroke="#000" stroke-width="2.9" stroke-linejoin="bevel"/>
<text x="0" y="9.43" font-size="29" font-weight="bold" text-anchor="middle" transform="translate(574.70 317.20) scale(1.04 0.9)">*</text>
<text x="0" y="9.43" font-size="29" font-weight="bold" text-anchor="middle" transform="translate(587.30 317.20) scale(1.04 0.9)">*</text>
<text x="0" y="9.43" font-size="29" font-weight="bold" text-anchor="middle" transform="translate(599.90 317.20) scale(1.04 0.9)">*</text>
<rect x="625.8" y="34.00" width="17" height="8.6" fill="#ff0000" stroke="#000" stroke-width="1"/>
<text x="0" y="0" font-size="12" font-weight="normal" stroke="#111" stroke-width="0.2" transform="translate(651.3 41.90) scale(1.08 1)">AD</text>
<rect x="625.8" y="52.20" width="17" height="8.6" fill="#0000ff" stroke="#000" stroke-width="1"/>
<text x="0" y="0" font-size="12" font-weight="normal" stroke="#111" stroke-width="0.2" transform="translate(651.3 60.10) scale(1.08 1)">PA</text>
<rect x="625.8" y="70.40" width="17" height="8.6" fill="#06c206" stroke="#000" stroke-width="1"/>
<text x="0" y="0" font-size="12" font-weight="normal" stroke="#111" stroke-width="0.2" transform="translate(651.3 78.30) scale(1.08 1)">NDC</text>
</svg>
</body></html>
